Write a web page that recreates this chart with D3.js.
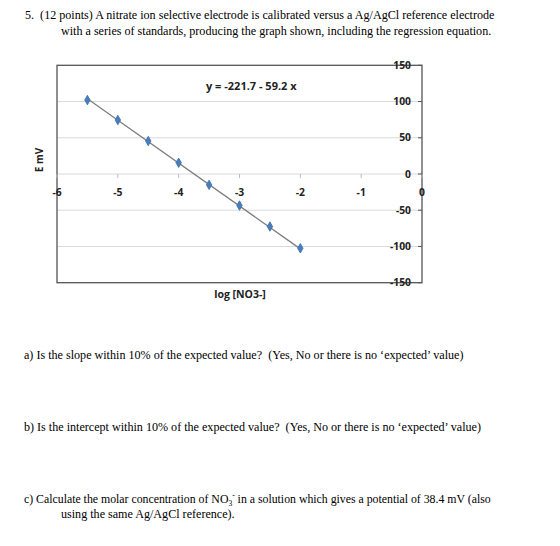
<!DOCTYPE html>
<html>
<head>
<meta charset="utf-8">
<script src="https://cdn.jsdelivr.net/npm/d3@7"></script>
<style>
  body { margin: 0; background: #fff; }
  .q { font-family: "Liberation Serif", "Times New Roman", serif; font-size: 12.1px; fill: #000; white-space: pre; }
  .ax text { font-family: "Open Sans", "Liberation Sans", sans-serif; font-weight: 700; font-size: 10.3px; fill: #222; }
</style>
</head>
<body>
<svg width="560" height="546"></svg>
<script>
const svg = d3.select('svg');

// calibration standards
const logNO3 = [-5.5, -5, -4.5, -4, -3.5, -3, -2.5, -2];
const emv = [102, 74.5, 45.5, 15.5, -15, -43.5, -72.5, -102.5];
const xTicks = [-6, -5, -4, -3, -2, -1, 0];
const yTicks = [-150, -100, -50, 0, 50, 100, 150];
const fit = { intercept: -221.7, slope: -59.2 };

const data = logNO3.map((x, i) => ({ x: x, y: emv[i] }));

const plot = { left: 57, right: 422, top: 65.3, bottom: 282.7 };

const x = d3.scaleLinear().domain([-6, 0]).range([plot.left, plot.right]);
const y = d3.scaleLinear().domain([-150, 150]).range([plot.bottom, plot.top]);

//question text
const lines = [
  { t: '5.  (12 points) A nitrate ion selective electrode is calibrated versus a Ag/AgCl reference electrode', x: 25, y: 19 },
  { t: 'with a series of standards, producing the graph shown, including the regression equation.', x: 61, y: 35 },
  { t: 'a) Is the slope within 10% of the expected value?  (Yes, No or there is no \u2018expected\u2019 value)', x: 24, y: 359 },
  { t: 'b) Is the intercept within 10% of the expected value?  (Yes, No or there is no \u2018expected\u2019 value)', x: 24, y: 431 },
  { t: 'using the same Ag/AgCl reference).', x: 61, y: 518 }
];
svg.selectAll('text.q').data(lines).enter().append('text')
  .attr('class', 'q')
  .attr('x', d => d.x)
  .attr('y', d => d.y)
  .text(d => d.t);

// line c) with NO3- subscript and superscript
const c = svg.append('text').attr('class', 'q').attr('x', 24).attr('y', 503)
  .style('font-size', '11.8px');
c.append('tspan').text('c) Calculate the molar concentration of NO');
c.append('tspan').attr('font-size', 7.5).attr('dy', 3).text('3');
c.append('tspan').attr('font-size', 7.5).attr('dy', -8).text('-');
c.append('tspan').attr('dy', 5).text(' in a solution which gives a potential of 38.4 mV (also');

const g = svg.append('g').attr('class', 'ax');

//gridlines
g.selectAll('line.grid').data(yTicks.filter(d => d != 150 && d != -150)).enter().append('line')
  .attr('class', 'grid')
  .attr('x1', plot.left).attr('x2', plot.right)
  .attr('y1', d => y(d)).attr('y2', d => y(d))
  .attr('stroke', '#d9d9d9').attr('stroke-width', 1);

//plot area border
g.append('rect')
  .attr('x', plot.left).attr('y', plot.top)
  .attr('width', plot.right - plot.left).attr('height', plot.bottom - plot.top)
  .attr('fill', 'none').attr('stroke', '#555').attr('stroke-width', 1.3);

//x ticks on the zero line
g.selectAll('line.xt').data(xTicks).enter().append('line')
  .attr('x1', d => x(d)).attr('x2', d => x(d))
  .attr('y1', y(0)).attr('y2', y(0) + 4)
  .attr('stroke', '#bbb');

g.selectAll('text.xl').data(xTicks).enter().append('text')
  .attr('x', d => x(d))
  .attr('y', y(0) + 22)
  .attr('text-anchor', 'middle')
  .text(d => d);

//y axis at x = 0, on the right
g.selectAll('line.yt').data(yTicks).enter().append('line')
  .attr('x1', x(0) - 4).attr('x2', x(0))
  .attr('y1', d => y(d)).attr('y2', d => y(d))
  .attr('stroke', '#555');

g.selectAll('text.yl').data(yTicks).enter().append('text')
  .attr('x', x(0) - 11)
  .attr('y', d => y(d) + 3.7)
  .attr('text-anchor', 'end')
  .text(d => d);

//regression line through the data range
const xr = d3.extent(logNO3);
g.append('line')
  .attr('x1', x(xr[0])).attr('y1', y(fit.intercept + fit.slope * xr[0]))
  .attr('x2', x(xr[1])).attr('y2', y(fit.intercept + fit.slope * xr[1]))
  .attr('stroke', '#7f7f7f').attr('stroke-width', 1.3);

//diamond markers
g.selectAll('path.pt').data(data).enter().append('path')
  .attr('d', d3.symbol().type(d3.symbolDiamond).size(26))
  .attr('transform', d => `translate(${x(d.x)},${y(d.y)})`)
  .attr('fill', '#4a7ebb')
  .attr('stroke', '#3b6fb0').attr('stroke-width', 0.8);

g.append('text')
  .attr('x', 206).attr('y', 89.5)
  .style('font-size', '11px')
  .text('y = -221.7 - 59.2 x');

g.append('text')
  .attr('x', 240).attr('y', 298)
  .attr('text-anchor', 'middle')
  .style('font-size', '10.5px')
  .text('log [NO3-]');

g.append('text')
  .attr('transform', 'translate(43,160) rotate(-90)')
  .attr('text-anchor', 'middle')
  .style('font-size', '10px')
  .text('E mV');
</script>
</body>
</html>
